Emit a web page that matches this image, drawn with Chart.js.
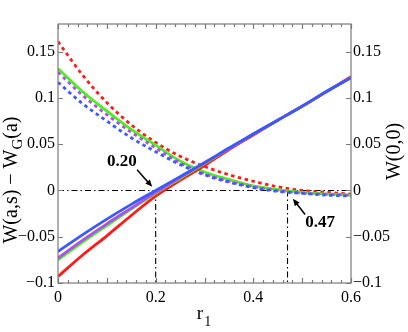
<!DOCTYPE html>
<html><head><meta charset="utf-8">
<script src="https://cdn.jsdelivr.net/npm/chart.js@4"></script>
<style>html,body{margin:0;padding:0;background:#fff}#wrap{width:408px;height:332px;position:relative}</style>
</head><body><div id="wrap"><canvas id="c"></canvas></div>
<script>
const r = [0,0.05,0.1,0.15,0.2,0.25,0.3,0.35,0.4,0.45,0.5,0.55,0.6];
const diffRed    = [-0.093,-0.070,-0.049,-0.027,-0.006,0.011,0.027,0.044,0.060,0.076,0.091,0.107,0.123];
const diffGreen  = [-0.075,-0.056,-0.038,-0.020,-0.003,0.013,0.029,0.045,0.061,0.076,0.091,0.107,0.122];
const diffPurple = [-0.073,-0.054,-0.036,-0.019,-0.002,0.014,0.030,0.045,0.061,0.076,0.091,0.107,0.122];
const diffBlue   = [-0.066,-0.048,-0.031,-0.015,0.000,0.015,0.030,0.046,0.061,0.076,0.091,0.107,0.122];
const wRed    = [0.161,0.125,0.095,0.071,0.052,0.037,0.026,0.017,0.010,0.004,0.000,-0.002,-0.004];
const wGreen  = [0.132,0.107,0.086,0.066,0.049,0.032,0.020,0.012,0.005,0.001,-0.002,-0.004,-0.005];
const wPurple = [0.128,0.103,0.082,0.063,0.046,0.030,0.018,0.010,0.004,0.000,-0.003,-0.004,-0.005];
const wBlue   = [0.117,0.094,0.075,0.057,0.042,0.028,0.017,0.009,0.003,-0.001,-0.003,-0.005,-0.006];
const xTickLabels = [0,0.2,0.4,0.6];
const yTickValues = [-0.1,-0.05,0,0.05,0.1,0.15];
const crossings = [0.20, 0.47];
const crossLabels = ['0.20','0.47'];

const annot = [
  {text:crossLabels[0], tx:0.131, ty:0.031, x0:0.162, y0:0.0223, x1:0.193, y1:0.004},
  {text:crossLabels[1], tx:0.537, ty:-0.035, x0:0.506, y0:-0.026, x1:0.481, y1:-0.009}
];

const C = {red:'#ff1a1a', green:'#4cf01c', purple:'#b44cf5', blue:'#3a5aff'};
const pts = (ys)=> r.map((x,i)=>({x:x,y:ys[i]}));
const FONT = 'Liberation Serif, Times New Roman, serif';

function ds(data,color,dashed,order){
  return {data:pts(data), borderColor:color, borderWidth:2.8, borderDash:dashed?[3.5,3.5]:[],
    pointRadius:0, fill:false, cubicInterpolationMode:'monotone', order:order, yAxisID:'y'};
}
function refLine(data,order){
  return {data:data, borderColor:'#000', borderWidth:1.1, borderDash:[6,3,1.5,3],
    pointRadius:0, fill:false, order:order, tension:0, yAxisID:'y'};
}

const fmt = (v)=>{ const s = String(Number(Math.abs(v).toFixed(2))); return v < -1e-9 ? '\u2212'+s : s; };

const framePlugin = {
  id:'frame',
  afterDraw(chart){
    const ctx = chart.ctx, a = chart.chartArea, xs = chart.scales.x, ys = chart.scales.y;
    ctx.save();
    ctx.strokeStyle = '#7a7a7a'; ctx.lineWidth = 1.2;
    ctx.strokeRect(a.left, a.top, a.right-a.left, a.bottom-a.top);
    ctx.beginPath();
    for (let i=0;i<=30;i++){
      const v = i*0.02, px = Math.round(xs.getPixelForValue(v))+0.5;
      const L = (i%5===0)?5:3;
      ctx.moveTo(px,a.bottom); ctx.lineTo(px,a.bottom-L);
      ctx.moveTo(px,a.top); ctx.lineTo(px,a.top+L);
    }
    yTickValues.forEach(v=>{
      const py = Math.round(ys.getPixelForValue(v))+0.5;
      ctx.moveTo(a.left,py); ctx.lineTo(a.left+5,py);
      ctx.moveTo(a.right,py); ctx.lineTo(a.right-5,py);
    });
    ctx.stroke();

    // annotations
    ctx.fillStyle = '#000'; ctx.strokeStyle = '#000';
    ctx.font = 'bold 17px '+FONT; ctx.textAlign='center'; ctx.textBaseline='middle';
    annot.forEach(an=>{
      ctx.fillText(an.text, xs.getPixelForValue(an.tx), ys.getPixelForValue(an.ty));
      const x0=xs.getPixelForValue(an.x0), y0=ys.getPixelForValue(an.y0);
      const x1=xs.getPixelForValue(an.x1), y1=ys.getPixelForValue(an.y1);
      const ang=Math.atan2(y1-y0,x1-x0), hl=7, hw=3;
      ctx.lineWidth=1.5;
      ctx.beginPath(); ctx.moveTo(x0,y0); ctx.lineTo(x1-Math.cos(ang)*hl*0.8,y1-Math.sin(ang)*hl*0.8); ctx.stroke();
      ctx.beginPath(); ctx.moveTo(x1,y1);
      ctx.lineTo(x1-Math.cos(ang)*hl+Math.sin(ang)*hw, y1-Math.sin(ang)*hl-Math.cos(ang)*hw);
      ctx.lineTo(x1-Math.cos(ang)*hl-Math.sin(ang)*hw, y1-Math.sin(ang)*hl+Math.cos(ang)*hw);
      ctx.closePath(); ctx.fill();
    });

    // axis titles
    ctx.textBaseline='alphabetic'; ctx.textAlign='left';
    const cx = (a.left+a.right)/2;
    ctx.font = '19px '+FONT;
    const wr = ctx.measureText('r').width;
    ctx.font = '14px '+FONT;
    const w1 = ctx.measureText('1').width;
    let sx = cx - (wr+w1)/2 - 1;
    ctx.font = '19px '+FONT; ctx.fillText('r', sx, 319);
    ctx.font = '14px '+FONT; ctx.fillText('1', sx+wr+1, 326);

    const parts = [['W(a,s) \u2212 W',20,0],['G',15,5],['(a)',20,0]];
    ctx.save();
    ctx.translate(17, 180);
    ctx.rotate(-Math.PI/2);
    let tot=0; parts.forEach(p=>{ctx.font=p[1]+'px '+FONT; tot+=ctx.measureText(p[0]).width;});
    let px = -tot/2;
    parts.forEach(p=>{ctx.font=p[1]+'px '+FONT; ctx.fillText(p[0],px,p[2]); px+=ctx.measureText(p[0]).width;});
    ctx.restore();

    ctx.save();
    ctx.translate(400, (a.top+a.bottom)/2-2);
    ctx.rotate(-Math.PI/2);
    ctx.font='20px '+FONT; ctx.textAlign='center';
    ctx.fillText('W(0,0)',0,0);
    ctx.restore();
    ctx.restore();
  }
};

const yTicks = {stepSize:0.05, includeBounds:false, color:'#000', font:{family:FONT,size:16}, callback:(v)=>fmt(v)};

new Chart(document.getElementById('c'), {
  type:'line',
  data:{datasets:[
    refLine([{x:0,y:0},{x:0.6,y:0}],20),
    refLine([{x:crossings[0],y:0},{x:crossings[0],y:-0.1}],20),
    refLine([{x:crossings[1],y:0},{x:crossings[1],y:-0.1}],20),
    ds(wRed,C.red,true,12),
    ds(wGreen,C.green,false,11),
    ds(wPurple,C.purple,true,10),
    ds(wBlue,C.blue,true,9),
    ds(diffRed,C.red,false,5),
    ds(diffGreen,C.green,false,4),
    ds(diffPurple,C.purple,false,3),
    ds(diffBlue,C.blue,false,2)
  ]},
  options:{
    responsive:true, maintainAspectRatio:false, animation:false,
    devicePixelRatio:1,
    layout:{padding:{top:24,left:0,right:0,bottom:0}},
    plugins:{legend:{display:false}, tooltip:{enabled:false}},
    scales:{
      x:{type:'linear', min:0, max:0.6,
        afterBuildTicks:(s)=>{ s.ticks = xTickLabels.map(v=>({value:v})); },
        ticks:{color:'#000', font:{family:FONT,size:16}, padding:5, maxRotation:0, callback:(v)=>fmt(v)},
        grid:{display:false, drawTicks:false}, border:{display:false},
        afterFit:(s)=>{ s.height = 49; }},
      y:{type:'linear', position:'left', min:-0.1, max:0.18,
        afterBuildTicks:(s)=>{ s.ticks = yTickValues.map(v=>({value:v})); },
        ticks:Object.assign({padding:3}, yTicks),
        grid:{display:false, drawTicks:false}, border:{display:false},
        afterFit:(s)=>{ s.width = 58; }},
      y2:{type:'linear', position:'right', min:-0.1, max:0.18,
        afterBuildTicks:(s)=>{ s.ticks = yTickValues.map(v=>({value:v})); },
        ticks:Object.assign({padding:2}, yTicks),
        grid:{display:false, drawTicks:false}, border:{display:false},
        afterFit:(s)=>{ s.width = 57; }}
    }
  },
  plugins:[framePlugin]
});
</script></body></html>
